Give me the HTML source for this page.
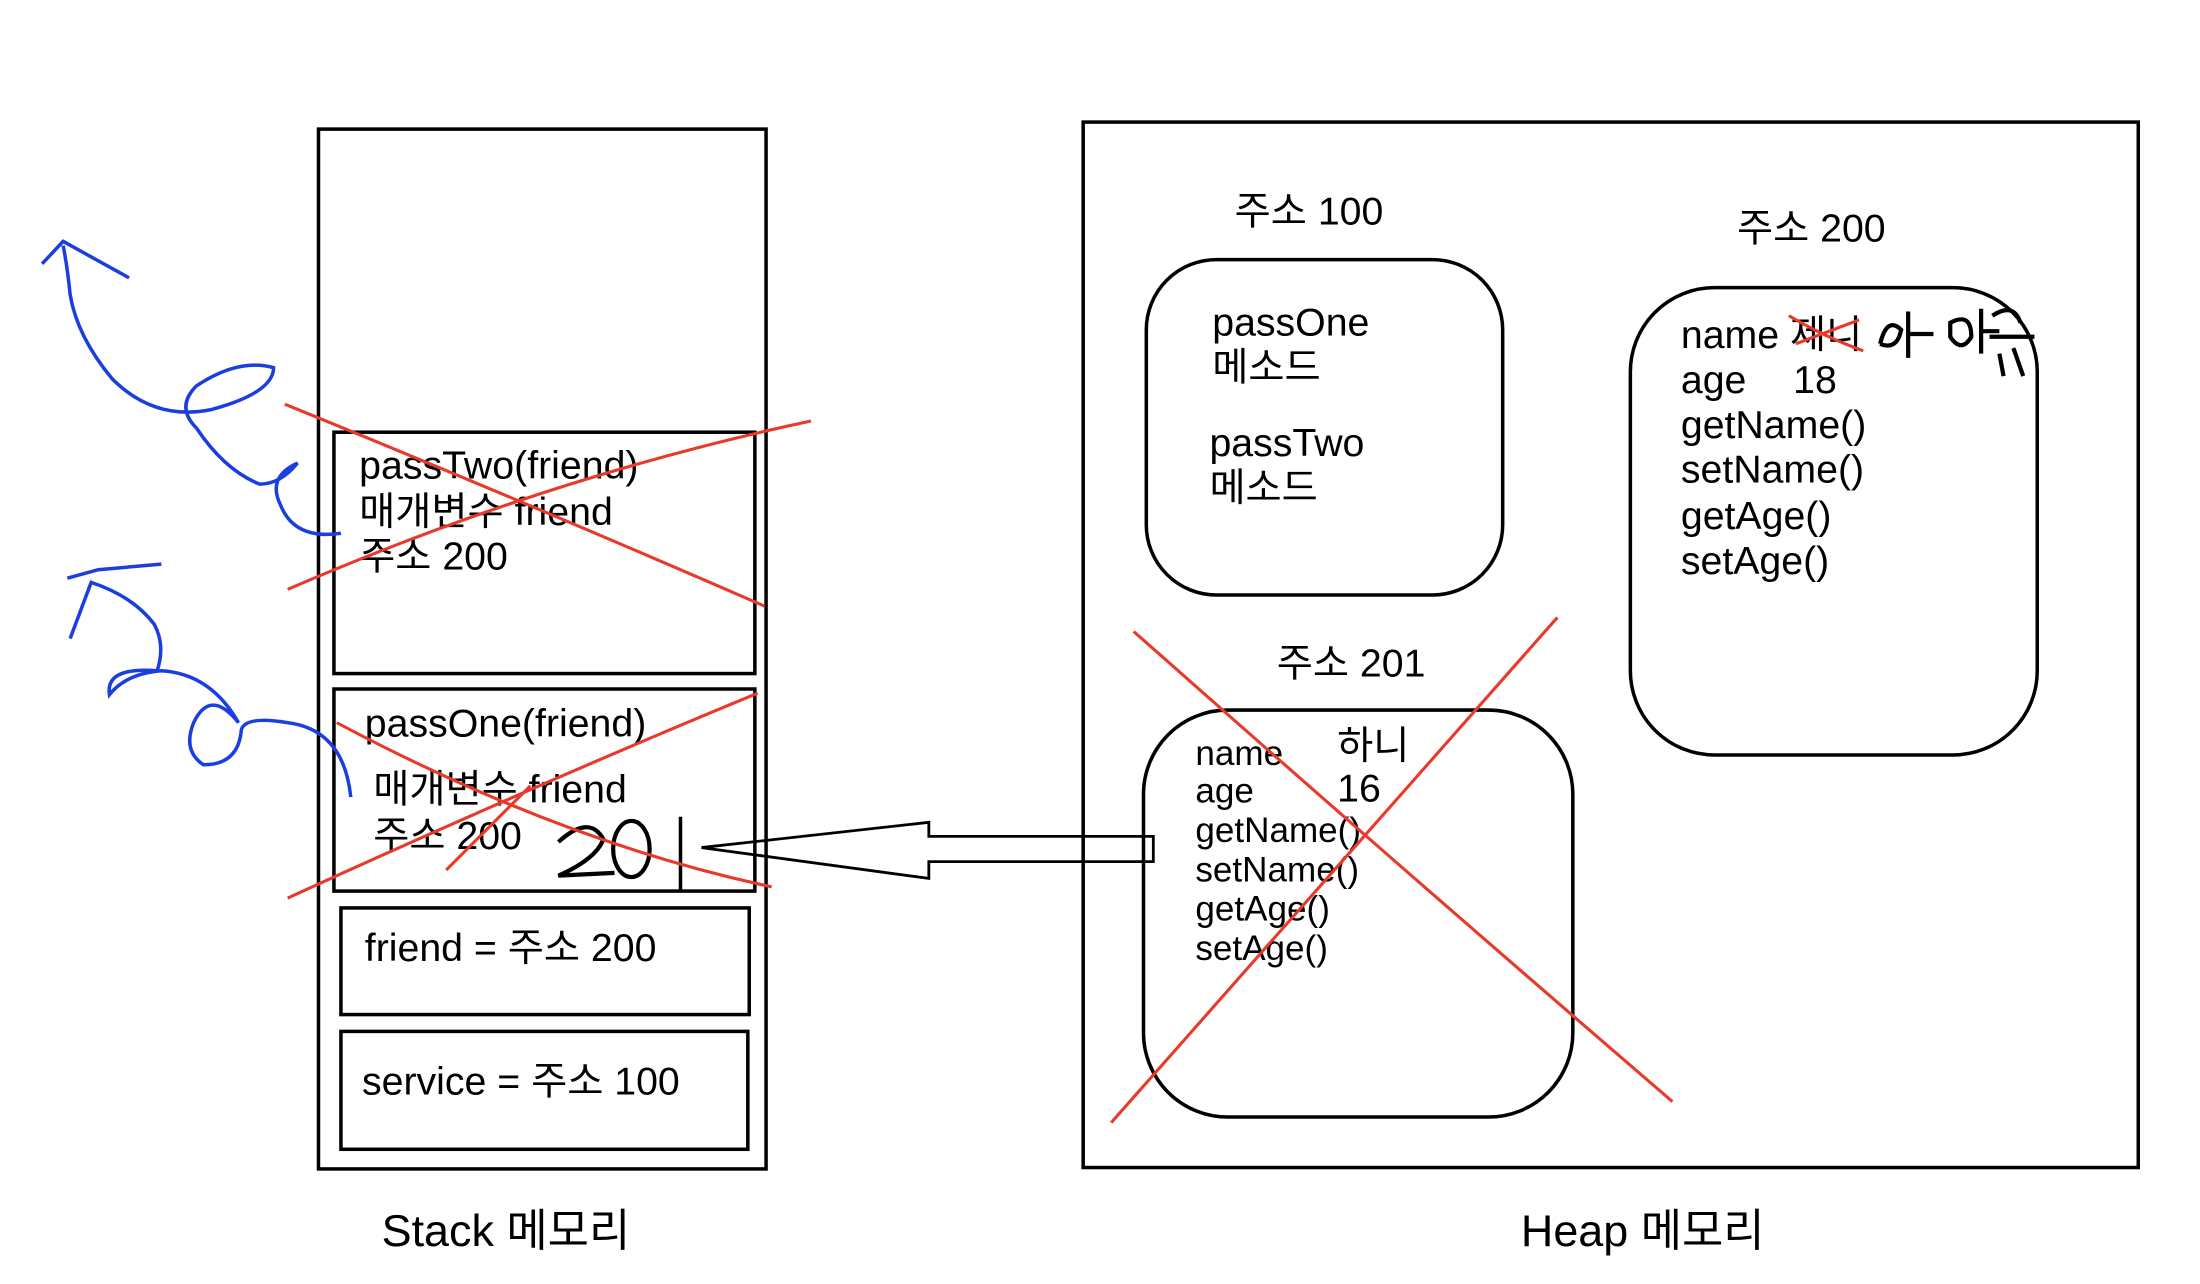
<!DOCTYPE html>
<html><head><meta charset="utf-8"><style>
html,body{margin:0;padding:0;background:#fff;}
svg{display:block;}
text{font-family:"Liberation Sans","Noto Sans CJK KR","NanumGothic",sans-serif;fill:#000;}
</style></head><body>
<svg width="2200" height="1284" viewBox="0 0 1568 915" preserveAspectRatio="none" xmlns="http://www.w3.org/2000/svg">
<rect width="1568" height="915" fill="#fff"/>
<g fill="none" stroke="#000" stroke-width="2.5">
<rect x="227" y="92" width="319" height="741"/>
<rect x="238" y="308" width="300" height="172"/>
<rect x="238" y="491" width="300" height="144"/>
<rect x="243" y="647" width="291" height="76"/>
<rect x="243" y="735" width="290" height="84"/>
<rect x="772" y="87" width="752" height="745"/>
<rect x="817" y="185" width="254" height="239" rx="50"/>
<rect x="1162" y="205" width="290" height="333" rx="60"/>
<rect x="815" y="506" width="306" height="290" rx="60"/>
<path d="M822 596 L662 596 L662 586 L500 604 L662 626 L662 614 L822 614 Z" stroke-width="2"/>
<path d="M485 582 L485 636" stroke-width="2.5"/>
</g>
<g font-size="28">
<text x="256" y="341">passTwo(friend)</text>
<text x="256" y="374">매개변수 friend</text>
<text x="256" y="406">주소 200</text>
<text x="260" y="525">passOne(friend)</text>
<text x="266" y="572">매개변수 friend</text>
<text x="266" y="605">주소 200</text>
<text x="260" y="685">friend = 주소 200</text>
<text x="258" y="780">service = 주소 100</text>
<text x="272" y="888" font-size="32">Stack 메모리</text>
<text x="1084" y="888" font-size="32">Heap 메모리</text>
<text x="880" y="160">주소 100</text>
<text x="1238" y="172">주소 200</text>
<text x="910" y="482">주소 201</text>
<text x="864" y="239">passOne</text>
<text x="864" y="271">메소드</text>
<text x="862" y="325">passTwo</text>
<text x="862" y="357">메소드</text>
<text x="1198" y="248">name 제니</text>
<text x="1198" y="280">age</text><text x="1278" y="280">18</text>
<text x="1198" y="312">getName()</text>
<text x="1198" y="344">setName()</text>
<text x="1198" y="377">getAge()</text>
<text x="1198" y="409">setAge()</text>
<text x="852" y="545" font-size="25">name</text><text x="953" y="541">하니</text>
<text x="852" y="572" font-size="25">age</text><text x="953" y="571">16</text>
<text x="852" y="600" font-size="25">getName()</text>
<text x="852" y="628" font-size="25">setName()</text>
<text x="852" y="656" font-size="25">getAge()</text>
<text x="852" y="684" font-size="25">setAge()</text>
</g>
<g fill="none" stroke="#000" stroke-width="3">
<path d="M398 600 Q420 580 430 598 Q425 612 398 624 L438 622"/>
<ellipse cx="450" cy="605" rx="13" ry="20"/>
<path d="M1340 245 Q1345 225 1355 235 Q1352 250 1340 245 M1360 222 L1360 255 M1360 238 L1378 238"/>
<path d="M1390 230 Q1405 222 1405 240 Q1398 252 1390 240 Z M1412 220 L1412 252 M1412 236 L1425 236"/>
<path d="M1420 225 Q1435 215 1440 230 M1418 240 L1450 240 M1425 252 L1428 268 M1435 248 L1442 268"/>
</g>
<g fill="none" stroke="#e8392a" stroke-width="2.2">
<path d="M203 288 Q380 360 545 432"/>
<path d="M205 420 Q390 340 578 300"/>
<path d="M205 640 Q380 560 540 494"/>
<path d="M240 515 Q400 600 550 632"/>
<path d="M318 620 L378 560"/>
<path d="M808 450 Q1000 620 1192 785"/>
<path d="M1110 440 Q950 620 792 800"/>
<path d="M1275 225 Q1300 240 1328 250"/>
<path d="M1280 245 L1325 228"/>
</g>
<g fill="none" stroke="#1a3ee0" stroke-width="2.5">
<path d="M243 380 Q210 385 200 360 Q190 340 212 330 Q200 345 185 345 Q160 335 140 305 Q125 290 140 275 Q170 255 195 262 Q195 280 150 292 Q110 300 80 270 Q55 240 50 210 Q48 190 45 175"/>
<path d="M30 188 L45 172 L92 198"/>
<path d="M250 568 Q245 520 205 515 Q175 510 172 520 Q170 545 145 545 Q130 535 138 515 Q150 490 170 515 Q150 480 115 478 Q90 480 78 495 Q75 475 112 478 Q118 460 110 445 Q95 425 65 415 L50 455"/>
<path d="M48 412 L70 406 L115 402"/>
</g>
</svg>
</body></html>
